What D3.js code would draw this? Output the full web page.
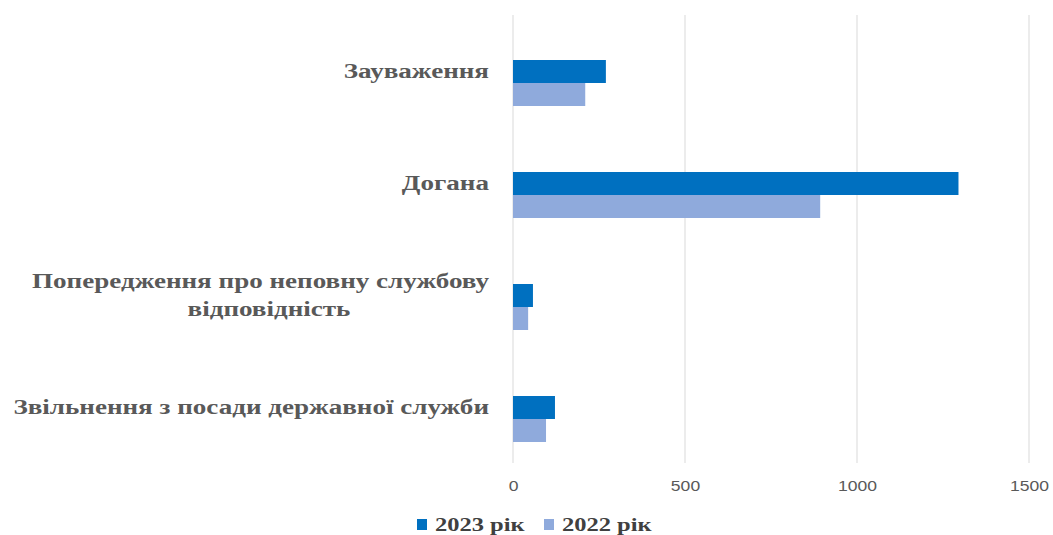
<!DOCTYPE html>
<html>
<head>
<meta charset="utf-8">
<script src="https://cdn.jsdelivr.net/npm/d3@7"></script>
<style>
  body { margin: 0; background: #fff; }
  .serif { font-family: 'Liberation Serif', 'Times New Roman', serif; font-weight: bold; }
</style>
</head>
<body>
<div id="chart"></div>
<script>
// categories top to bottom, each may be split into lines
const categories = ['Зауваження', 'Догана', 'Попередження про неповну службову відповідність', 'Звільнення з посади державної служби'];
const categoryLines = [['Зауваження'], ['Догана'], ['Попередження про неповну службову', 'відповідність'], ['Звільнення з посади державної служби']];
const series = ['2023 рік', '2022 рік'];
const values2023 = [270, 1295, 58, 122];
const values2022 = [210, 893, 44, 96];
const xTicks = [0, 500, 1000, 1500];
const colors = ['#0070C0', '#8FAADC'];

const width = 1053, height = 535;
// the original picture is stretched sideways, so the text is too
const stretch = 1.29;

const svg = d3.select('#chart').append('svg')
    .attr('width', width).attr('height', height);

const x = d3.scaleLinear().domain([0, 1500]).range([513, 1029]);
const y = d3.scaleBand().domain(categories).range([15, 463]).padding(0);
// bars sit a bit below the band centre, like the original
const y1 = d3.scaleBand().domain(series).range([45, 91]);

// gridlines
svg.append('g').selectAll('line')
    .data(xTicks).join('line')
    .attr('x1', d => x(d)).attr('x2', d => x(d))
    .attr('y1', 15).attr('y2', 463)
    .attr('stroke', '#d9d9d9').attr('stroke-width', 1);

// x axis labels
const xAxis = svg.append('g')
    .attr('transform', 'translate(0,463)')
    .call(d3.axisBottom(x).tickValues(xTicks).tickFormat(d3.format('d')).tickSize(0).tickPadding(17));
xAxis.select('.domain').remove();
xAxis.selectAll('text')
    .attr('font-family', "'Liberation Sans', Arial, sans-serif")
    .attr('font-size', '15px')
    .attr('fill', '#595959')
    .attr('transform', 'scale(1.17,1)');

// bars
const rows = categories.map((c, i) => ({cat: c, vals: [values2023[i], values2022[i]]}));
const groups = svg.append('g').selectAll('g')
    .data(rows).join('g')
    .attr('transform', d => `translate(0,${y(d.cat)})`);
groups.selectAll('rect')
    .data(d => d.vals.map((v, j) => ({s: series[j], v, j})))
    .join('rect')
    .attr('x', x(0))
    .attr('y', d => y1(d.s))
    .attr('width', d => x(d.v) - x(0))
    .attr('height', y1.bandwidth())
    .attr('fill', d => colors[d.j]);

// category labels
const labelRight = 489;
const lab = svg.append('g').selectAll('g')
    .data(categories).join('g')
    .attr('transform', d => `translate(${labelRight},${y(d) + y.bandwidth() / 2}) scale(${stretch},1)`)
    .append('text')
    .attr('class', 'serif')
    .style('font-size', '21px')
    .attr('fill', '#595959');
lab.each(function(d, i) {
    const lines = categoryLines[i];
    const t = d3.select(this);
    const lh = 29;
    lines.forEach((ln, k) => {
        t.append('tspan')
            .attr('x', k === 0 ? 0 : (269 - labelRight) / stretch)
            .attr('text-anchor', k === 0 ? 'end' : 'middle')
            .attr('dy', k === 0 ? (-(lines.length - 1) * lh / 2 + 7) : lh)
            .text(ln);
    });
});

// legend
const legendX = [417, 544];
const leg = svg.append('g').selectAll('g')
    .data(series).join('g')
    .attr('transform', (d, i) => `translate(${legendX[i]},519)`);
leg.append('rect')
    .attr('width', 10).attr('height', 11)
    .attr('fill', (d, i) => colors[i]);
leg.append('text')
    .attr('class', 'serif')
    .attr('transform', `translate(18,12) scale(${stretch},1)`)
    .style('font-size', '19px')
    .attr('fill', '#404040')
    .text(d => d);
</script>
</body>
</html>
